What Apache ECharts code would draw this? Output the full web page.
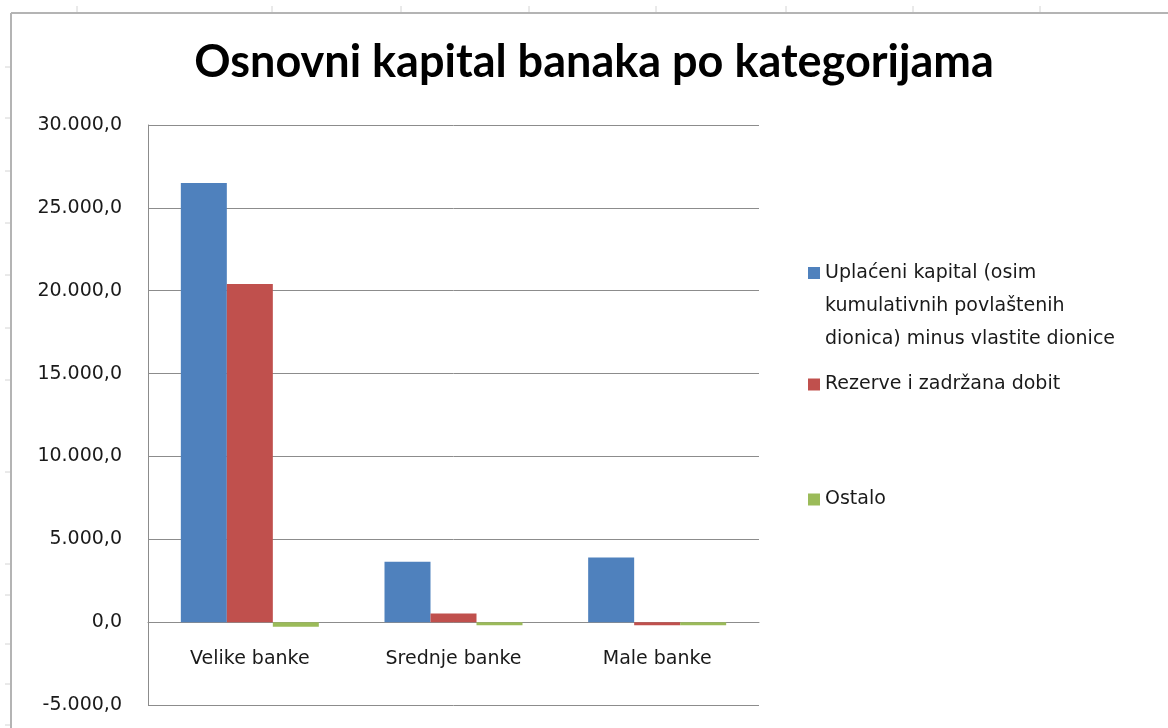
<!DOCTYPE html>
<html>
<head>
<meta charset="utf-8">
<script src="https://cdn.jsdelivr.net/npm/echarts@6/dist/echarts.min.js"></script>
<style>html,body{margin:0;padding:0;background:#fff;}#c{width:1168px;height:728px;}</style>
</head>
<body>
<div id="c"></div>
<script>
const categories = ['Velike banke', 'Srednje banke', 'Male banke'];
const seriesNames = [
  'Uplaćeni kapital (osim\nkumulativnih povlaštenih\ndionica) minus vlastite dionice',
  'Rezerve i zadržana dobit',
  'Ostalo'
];
const uplaceniKapital = [26500, 3650, 3900];
const rezerveDobit = [20400, 520, -180];
const ostalo = [-280, -180, -180];
const yTicks = { min: -5000, max: 30000, interval: 5000 };
const titleText = 'Osnovni kapital banaka po kategorijama';

const colors = ['#4F81BD', '#C0504D', '#9BBB59'];
const topTicksX = [77, 272, 401, 529, 656, 786, 913, 1040];
const leftTicksY = [67, 118, 171, 223, 275, 328, 380, 472, 564, 595, 644, 684, 725];

function fmt(v) {
  const neg = v < 0;
  const s = Math.abs(v).toFixed(0).replace(/\B(?=(\d{3})+(?!\d))/g, '.');
  return (neg ? '-' : '') + s + ',0';
}

const graphics = [
  { type: 'line', shape: { x1: 11, y1: 13, x2: 1168, y2: 13 }, style: { stroke: '#b4b4b4', lineWidth: 2 }, silent: true },
  { type: 'line', shape: { x1: 11, y1: 13, x2: 11, y2: 728 }, style: { stroke: '#b4b4b4', lineWidth: 2 }, silent: true }
];
topTicksX.forEach(x => graphics.push({ type: 'line', shape: { x1: x, y1: 6, x2: x, y2: 12 }, style: { stroke: '#d4d4d4', lineWidth: 1 }, silent: true }));
leftTicksY.forEach(y => graphics.push({ type: 'line', shape: { x1: 5, y1: y, x2: 10, y2: y }, style: { stroke: '#d4d4d4', lineWidth: 1 }, silent: true }));

const legendText = { fontFamily: 'DejaVu Sans', fontSize: 19, color: '#1a1a1a', lineHeight: 33 };
// square icon placed at the first text line of a 3-line entry
const topSquareIcon = 'path://M0,0L0,0M0,10L12,10L12,22L0,22ZM0,99L0,99';

const chart = echarts.init(document.getElementById('c'));
chart.setOption({
  animation: false,
  backgroundColor: '#fff',
  color: colors,
  title: {
    text: titleText,
    left: 589,
    top: 35,
    textAlign: 'center',
    textStyle: { fontFamily: 'Lato', fontWeight: 'bold', fontSize: 45, color: '#000' }
  },
  graphic: graphics,
  legend: [
    {
      data: [{ name: seriesNames[0], icon: topSquareIcon }], left: 803, top: 252,
      itemWidth: 12, itemHeight: 99, selectedMode: false, itemStyle: { borderWidth: 0 },
      textStyle: legendText
    },
    {
      data: [seriesNames[1]], left: 803, top: 363, icon: 'rect',
      itemWidth: 12, itemHeight: 12, selectedMode: false, textStyle: legendText
    },
    {
      data: [seriesNames[2]], left: 803, top: 478, icon: 'rect',
      itemWidth: 12, itemHeight: 12, selectedMode: false, textStyle: legendText
    }
  ],
  grid: { left: 148, right: 409, top: 125, bottom: 23, containLabel: false, outerBoundsMode: 'none' },
  xAxis: {
    type: 'category',
    data: categories,
    offset: -83,
    axisLine: { onZero: false, show: true, lineStyle: { color: '#8c8c8c', width: 1 } },
    axisTick: { show: false },
    axisLabel: { fontFamily: 'DejaVu Sans', fontSize: 19, color: '#1a1a1a', margin: 28 }
  },
  yAxis: {
    type: 'value',
    min: yTicks.min, max: yTicks.max, interval: yTicks.interval,
    axisLine: { show: true, lineStyle: { color: '#8c8c8c', width: 1 } },
    axisTick: { show: false },
    splitLine: { show: true, lineStyle: { color: '#8c8c8c', width: 1 } },
    axisLabel: { fontFamily: 'DejaVu Sans', fontSize: 19, color: '#1a1a1a', margin: 26, formatter: fmt }
  },
  series: [
    { name: seriesNames[0], type: 'bar', data: uplaceniKapital, barWidth: 46, barGap: '0%' },
    { name: seriesNames[1], type: 'bar', data: rezerveDobit, barWidth: 46, barGap: '0%' },
    { name: seriesNames[2], type: 'bar', data: ostalo, barWidth: 46, barGap: '0%' }
  ]
});
</script>
</body>
</html>
